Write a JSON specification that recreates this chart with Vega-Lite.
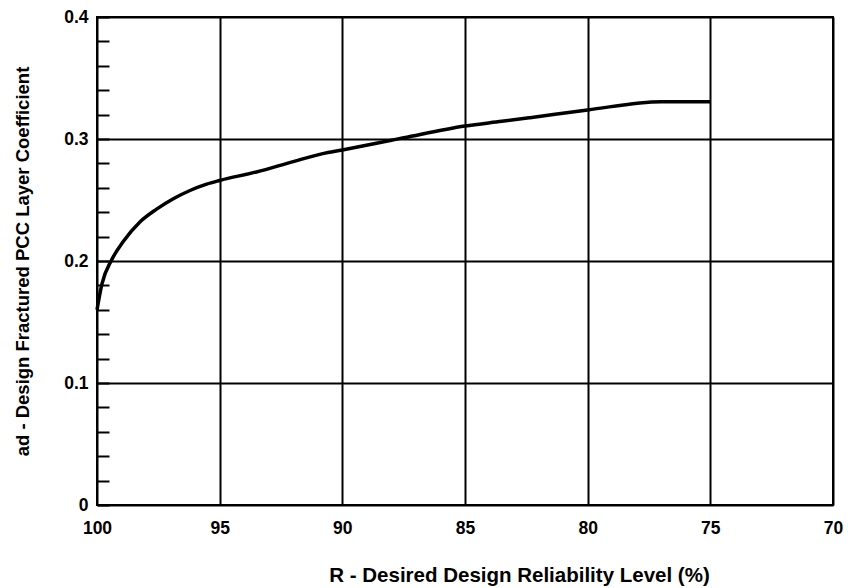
{
  "$schema": "https://vega.github.io/schema/vega-lite/v6.json",
  "width": 736,
  "height": 488,
  "autosize": {"type": "none"},
  "padding": {"left": 97, "top": 17, "right": 15, "bottom": 83},
  "background": "white",
  "config": {
    "view": {"stroke": "black", "strokeWidth": 2},
    "font": "Liberation Sans",
    "axis": {
      "labelFont": "Liberation Sans",
      "titleFont": "Liberation Sans",
      "labelFontSize": 17.5,
      "labelFontWeight": "bold",
      "labelColor": "black",
      "titleFontWeight": "bold",
      "titleColor": "black",
      "gridColor": "black",
      "gridWidth": 2,
      "gridOpacity": 1,
      "domain": false
    }
  },
  "data": {
    "values": [
      {"R": 100, "ad": 0.16},
      {"R": 99.8, "ad": 0.181},
      {"R": 99.4, "ad": 0.201},
      {"R": 98.93, "ad": 0.216},
      {"R": 98.25, "ad": 0.232},
      {"R": 97.57, "ad": 0.2425},
      {"R": 96.89, "ad": 0.251},
      {"R": 96.21, "ad": 0.2578},
      {"R": 95.53, "ad": 0.263},
      {"R": 95, "ad": 0.266},
      {"R": 93.5, "ad": 0.273},
      {"R": 92, "ad": 0.2815},
      {"R": 90.8, "ad": 0.288},
      {"R": 90, "ad": 0.291},
      {"R": 88, "ad": 0.299},
      {"R": 87.5, "ad": 0.301},
      {"R": 85, "ad": 0.3107},
      {"R": 83.5, "ad": 0.3145},
      {"R": 82.35, "ad": 0.3175},
      {"R": 80, "ad": 0.3238},
      {"R": 77, "ad": 0.3306},
      {"R": 75, "ad": 0.3306}
    ]
  },
  "mark": {"type": "line", "color": "black", "strokeWidth": 3.5, "interpolate": "monotone"},
  "encoding": {
    "x": {
      "field": "R",
      "type": "quantitative",
      "scale": {"domain": [70, 100], "reverse": true, "nice": false, "zero": false},
      "axis": {
        "values": [100, 95, 90, 85, 80, 75, 70],
        "grid": true,
        "ticks": false,
        "labelPadding": 14,
        "labelFlush": false,
        "title": "R - Desired Design Reliability Level (%)",
        "titleFontSize": 20.5,
        "titlePadding": 29,
        "titleX": 422,
        "titleAlign": "center"
      }
    },
    "y": {
      "field": "ad",
      "type": "quantitative",
      "scale": {"domain": [0, 0.4], "nice": false},
      "axis": {
        "values": [0, 0.02, 0.04, 0.06, 0.08, 0.1, 0.12, 0.14, 0.16, 0.18, 0.2, 0.22, 0.24, 0.26, 0.28, 0.3, 0.32, 0.34, 0.36, 0.38, 0.4],
        "format": "~g",
        "labelExpr": "abs(datum.value*10 - round(datum.value*10)) < 0.001 ? datum.label : ''",
        "grid": true,
        "gridOpacity": {"condition": {"test": "abs(datum.value*10 - round(datum.value*10)) < 0.001", "value": 1}, "value": 0},
        "ticks": true,
        "tickSize": -12,
        "tickWidth": 2,
        "tickColor": "black",
        "labelPadding": 21,
        "labelFlush": false,
        "title": "ad - Design Fractured PCC Layer Coefficient",
        "titleFontSize": 18.5,
        "titlePadding": 31
      }
    },
    "order": {"field": "R", "sort": "descending"}
  }
}
